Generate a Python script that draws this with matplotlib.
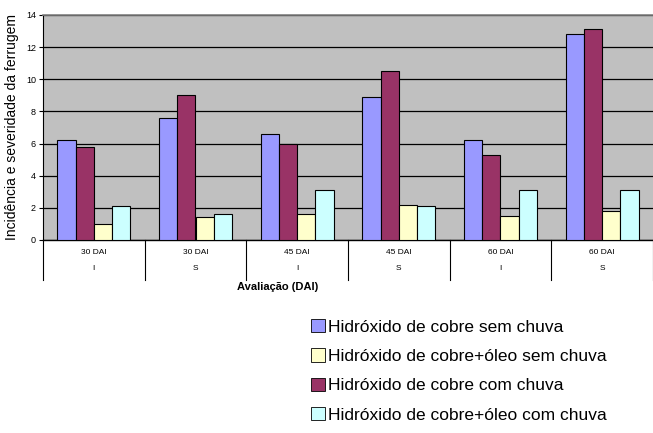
import numpy as np
import matplotlib
matplotlib.use('Agg')
import matplotlib.pyplot as plt
import matplotlib.transforms as mtransforms
from matplotlib.patches import Patch

dias = ['30 DAI', '30 DAI', '45 DAI', '45 DAI', '60 DAI', '60 DAI']
tipo = ['I', 'S', 'I', 'S', 'I', 'S']

cobre_sem = [6.2, 7.6, 6.6, 8.9, 6.2, 12.8]
cobre_com = [5.8, 9.0, 6.0, 10.5, 5.3, 13.1]
oleo_sem = [1.0, 1.4, 1.6, 2.15, 1.5, 1.8]
oleo_com = [2.1, 1.6, 3.1, 2.1, 3.1, 3.1]

labels = ['Hidróxido de cobre sem chuva', 'Hidróxido de cobre+óleo sem chuva',
          'Hidróxido de cobre com chuva', 'Hidróxido de cobre+óleo com chuva']
cores = {'cobre_sem': '#9999FF', 'cobre_com': '#993366',
         'oleo_sem': '#FFFFCC', 'oleo_com': '#CCFFFF'}

plt.rcParams['font.family'] = ['Liberation Sans', 'DejaVu Sans']

fig = plt.figure(figsize=(6.53, 4.33), dpi=100)
ax = fig.add_axes([43/653, 1-240/433, 610/653, 225/433])
ax.set_facecolor('#C0C0C0')

x = np.arange(len(dias)) + 0.5
w = 0.18
series = [(cobre_sem, 'cobre_sem'), (cobre_com, 'cobre_com'),
          (oleo_sem, 'oleo_sem'), (oleo_com, 'oleo_com')]
for k, (vals, key) in enumerate(series):
    ax.bar(x + (k - 1.5) * w, vals, w, color=cores[key], edgecolor='black', linewidth=0.8, zorder=3)

ax.set_xlim(0, len(dias))
ax.set_ylim(0, 14)
ax.set_yticks(range(0, 15, 2))
ax.tick_params(axis='y', labelsize=6.5, length=3, width=0.8, pad=2)
ax.yaxis.grid(True, color='black', linewidth=0.9, zorder=1)
ax.set_xticks([])
ax.spines['right'].set_visible(False)
ax.spines['top'].set_color('#808080')
ax.spines['top'].set_linewidth(1.2)
ax.spines['left'].set_linewidth(0.8)
ax.spines['bottom'].set_linewidth(1.0)

trans = mtransforms.blended_transform_factory(ax.transData, ax.transAxes)
for i in range(len(dias)):
    ax.text(x[i], -0.055, dias[i], transform=trans, ha='center', va='center', fontsize=6)
    ax.text(x[i], -0.125, tipo[i], transform=trans, ha='center', va='center', fontsize=6)
for i in range(len(dias) + 1):
    ax.plot([i, i], [0, -0.18], transform=trans, color='black', linewidth=0.8, clip_on=False)

fig.text(12/653, 1-127/433, 'Incidência e severidade da ferrugem', rotation=90,
         ha='center', va='center', fontsize=10)
fig.text(278/653, 1-287/433, 'Avaliação (DAI)', ha='center', va='center',
         fontsize=8, fontweight='bold')

handles = [Patch(facecolor=cores['cobre_sem'], edgecolor='black', linewidth=0.6),
           Patch(facecolor=cores['oleo_sem'], edgecolor='black', linewidth=0.6),
           Patch(facecolor=cores['cobre_com'], edgecolor='black', linewidth=0.6),
           Patch(facecolor=cores['oleo_com'], edgecolor='black', linewidth=0.6)]
fig.legend(handles, labels, loc='upper left', bbox_to_anchor=(311/653, 1-319/433),
           frameon=False, fontsize=12.5, handlelength=0.8, handleheight=0.8,
           handletextpad=0.2, labelspacing=0.79, borderaxespad=0, borderpad=0)

fig.savefig('out.png', dpi=100)
